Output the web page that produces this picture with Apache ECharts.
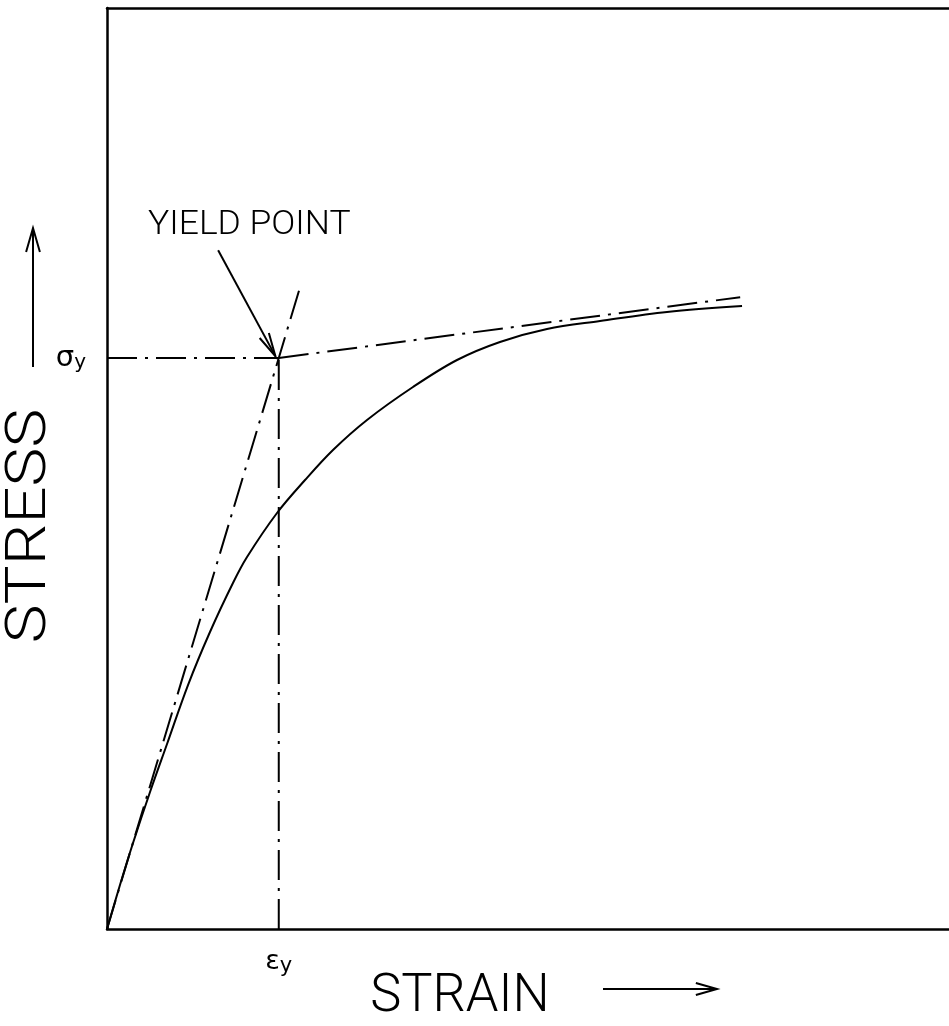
<!DOCTYPE html>
<html>
<head>
<meta charset="utf-8">
<script src="https://cdn.jsdelivr.net/npm/echarts@6/dist/echarts.min.js"></script>
<style>
  html, body { margin: 0; padding: 0; background: #fff; }
  #chart { width: 949px; height: 1026px; }
</style>
</head>
<body>
<div id="chart"></div>
<script>
// Stress–strain curve with the yield-point construction.
// Strain and stress are in arbitrary relative units (0–100).

// Measured stress–strain curve: [strain, stress]
const curveStrain = [0, 1.54, 3.09, 5.11, 7.13, 9.62, 12.23, 14.96, 16.63, 20.19, 23.52, 26.84, 30.88, 36.34, 41.57, 46.67, 52.26, 58.55, 66.51, 75.42];
const curveStress = [0, 4.78, 9.34, 14.88, 20.09, 26.49, 32.25, 37.57, 40.39, 45.17, 48.75, 52.01, 55.27, 58.85, 61.78, 63.74, 65.15, 66.01, 66.99, 67.64];

// Yield point
const epsY = 20.4;
const sigmaY = 62.0;

// Initial elastic tangent (from origin through the yield point, extended a little)
const tangentStrain = [0, 22.8];
const tangentStress = [0, 69.3];

// Post-yield hardening line
const plasticStrain = [20.4, 75.2];
const plasticStress = [62.0, 68.6];

// "YIELD POINT" pointer: from [strain, stress] to [strain, stress]
const pointerFrom = [13.2, 73.7];
const pointerTo = [20.0, 62.2];

const zip = (a, b) => a.map((v, i) => [v, b[i]]);

const INK = '#000';
const DASH_DOT = [30, 8, 3, 8];
const FONT = 'Roboto, "Liberation Sans", sans-serif';

function arrowShapes(x0, y0, x1, y1, len, halfAngle, width) {
  const a = Math.atan2(y1 - y0, x1 - x0);
  const b1 = [x1 - len * Math.cos(a - halfAngle), y1 - len * Math.sin(a - halfAngle)];
  const b2 = [x1 - len * Math.cos(a + halfAngle), y1 - len * Math.sin(a + halfAngle)];
  return [
    { type: 'line', shape: { x1: x0, y1: y0, x2: x1, y2: y1 }, style: { stroke: INK, lineWidth: width } },
    { type: 'polyline', shape: { points: [b1, [x1, y1], b2] }, style: { stroke: INK, lineWidth: width, fill: null } }
  ];
}

const chart = echarts.init(document.getElementById('chart'), null, { renderer: 'canvas' });

const dashLine = (name, data) => ({
  name, type: 'line', data, symbol: 'none', silent: true, animation: false,
  lineStyle: { color: INK, width: 2, type: DASH_DOT }
});

const frameLine = { show: true, onZero: false, lineStyle: { color: INK, width: 2.5 } };

const option = {
  backgroundColor: '#fff',
  animation: false,
  grid: { left: 107, right: 0, top: 8, bottom: 97, show: false },
  xAxis: [
    {
      type: 'value', min: 0, max: 100, position: 'bottom',
      axisLine: frameLine, axisTick: { show: false }, splitLine: { show: false },
      axisLabel: {
        customValues: [epsY], margin: 18,
        formatter: () => '{a|ε}{b|y}',
        rich: {
          a: { fontFamily: 'DejaVu Sans', fontSize: 27, color: INK },
          b: { fontFamily: 'DejaVu Sans', fontSize: 21, color: INK, padding: [9, 0, 0, 0] }
        }
      }
    },
    {
      // top edge of the frame
      type: 'value', min: 0, max: 100, position: 'top',
      axisLine: frameLine, axisTick: { show: false }, splitLine: { show: false },
      axisLabel: { show: false }
    }
  ],
  yAxis: {
    type: 'value', min: 0, max: 100,
    axisLine: frameLine, axisTick: { show: false }, splitLine: { show: false },
    axisLabel: {
      customValues: [sigmaY], margin: 21,
      formatter: () => '{a|σ}{b|y}',
      rich: {
        a: { fontFamily: 'DejaVu Sans', fontSize: 29, color: INK },
        b: { fontFamily: 'DejaVu Sans', fontSize: 20, color: INK, padding: [9, 0, 0, 0] }
      }
    }
  },
  series: [
    {
      name: 'Stress–strain', type: 'line', data: zip(curveStrain, curveStress),
      smooth: 0.35, symbol: 'none', silent: true,
      lineStyle: { color: INK, width: 2 }
    },
    dashLine('Elastic tangent', zip(tangentStrain, tangentStress)),
    dashLine('Hardening', zip(plasticStrain, plasticStress)),
    dashLine('σy', [[0, sigmaY], [epsY, sigmaY]]),
    dashLine('εy', [[epsY, 0], [epsY, sigmaY]]),
    {
      name: 'Yield pointer', type: 'custom', silent: true,
      data: [[pointerFrom[0], pointerFrom[1], pointerTo[0], pointerTo[1]]],
      encode: { x: [0, 2], y: [1, 3] },
      renderItem: (params, api) => {
        const p0 = api.coord([api.value(0), api.value(1)]);
        const p1 = api.coord([api.value(2), api.value(3)]);
        return { type: 'group', children: arrowShapes(p0[0], p0[1], p1[0], p1[1], 24, 0.22, 2) };
      }
    }
  ],
  graphic: [
    {
      type: 'text', x: 148, y: 209, scaleX: 1.075,
      style: { text: 'YIELD POINT', font: '300 33px ' + FONT, fill: INK }
    },
    {
      type: 'text', x: 31, y: 526, rotation: Math.PI / 2, scaleX: 1.17,
      style: { text: 'STRESS', font: '300 56px ' + FONT, fill: INK, align: 'center', verticalAlign: 'middle' }
    },
    {
      type: 'text', x: 460, y: 997, scaleX: 0.97,
      style: { text: 'STRAIN', font: '300 54px ' + FONT, fill: INK, align: 'center', verticalAlign: 'middle' }
    },
    { type: 'group', children: arrowShapes(33, 367, 33, 228, 25, 0.28, 2) },
    { type: 'group', children: arrowShapes(603, 989, 717, 989, 22, 0.28, 2) }
  ]
};

chart.setOption(option);
</script>
</body>
</html>
